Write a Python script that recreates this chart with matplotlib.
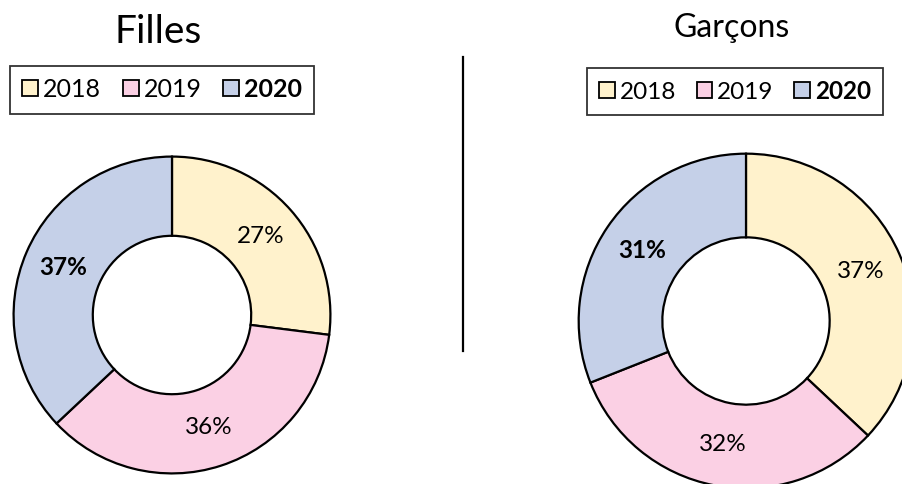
import matplotlib.pyplot as plt
from matplotlib.patches import Patch

plt.rcParams['font.family'] = ['Lato', 'DejaVu Sans']

years = ['2018', '2019', '2020']
filles = [27, 36, 37]
garcons = [37, 32, 31]
colors = ['#FFF2CC', '#FBD0E4', '#C5D0E8']

W, H = 902, 484
fig = plt.figure(figsize=(W / 100, H / 100), dpi=100)


def px_axes(cx, cy, r):
    # axes box in pixels (y from top) holding a pie of radius 1
    return fig.add_axes([(cx - r) / W, (H - cy - r) / H, 2 * r / W, 2 * r / H])


def donut(ax, vals, size):
    wedges, texts, autotexts = ax.pie(
        vals, colors=colors, startangle=90, counterclock=False,
        radius=1, autopct='%d%%', pctdistance=0.75,
        wedgeprops=dict(width=0.5, edgecolor='black', linewidth=1.6),
        textprops=dict(fontsize=size, color='black'))
    # 2020 is bold
    autotexts[2].set_fontweight('bold')
    ax.set_xlim(-1.01, 1.01)
    ax.set_ylim(-1.01, 1.01)
    ax.set_aspect('auto')
    ax.axis('off')


ax1 = px_axes(172, 315, 160)
donut(ax1, filles, 17.5)
ax2 = px_axes(746, 321, 169)
donut(ax2, garcons, 17.5)

fig.text(158 / W, 1 - 43 / H, 'Filles', fontsize=28, ha='center', va='baseline')
fig.text(732 / W, 1 - 37 / H, 'Garçons', fontsize=23, ha='center', va='baseline')

# separator
fig.add_artist(plt.Line2D([463 / W, 463 / W], [1 - 57 / H, 1 - 351 / H],
                          color='black', linewidth=1.6))


def legend(cx, cy, size):
    handles = [Patch(facecolor=c, edgecolor='black', linewidth=1.3) for c in colors]
    leg = fig.legend(handles, years, loc='center', ncol=3,
                     bbox_to_anchor=(cx / W, 1 - cy / H), fontsize=size,
                     frameon=True, fancybox=False, edgecolor='black',
                     handlelength=0.64, handleheight=0.64, handletextpad=0.2,
                     columnspacing=0.85, borderpad=0.5, borderaxespad=0)
    leg.get_frame().set_linewidth(1.3)
    leg.texts[2].set_fontweight('bold')
    return leg


legend(162, 89.5, 18)
legend(735, 91.5, 17.5)

fig.savefig('out.png', dpi=100)
